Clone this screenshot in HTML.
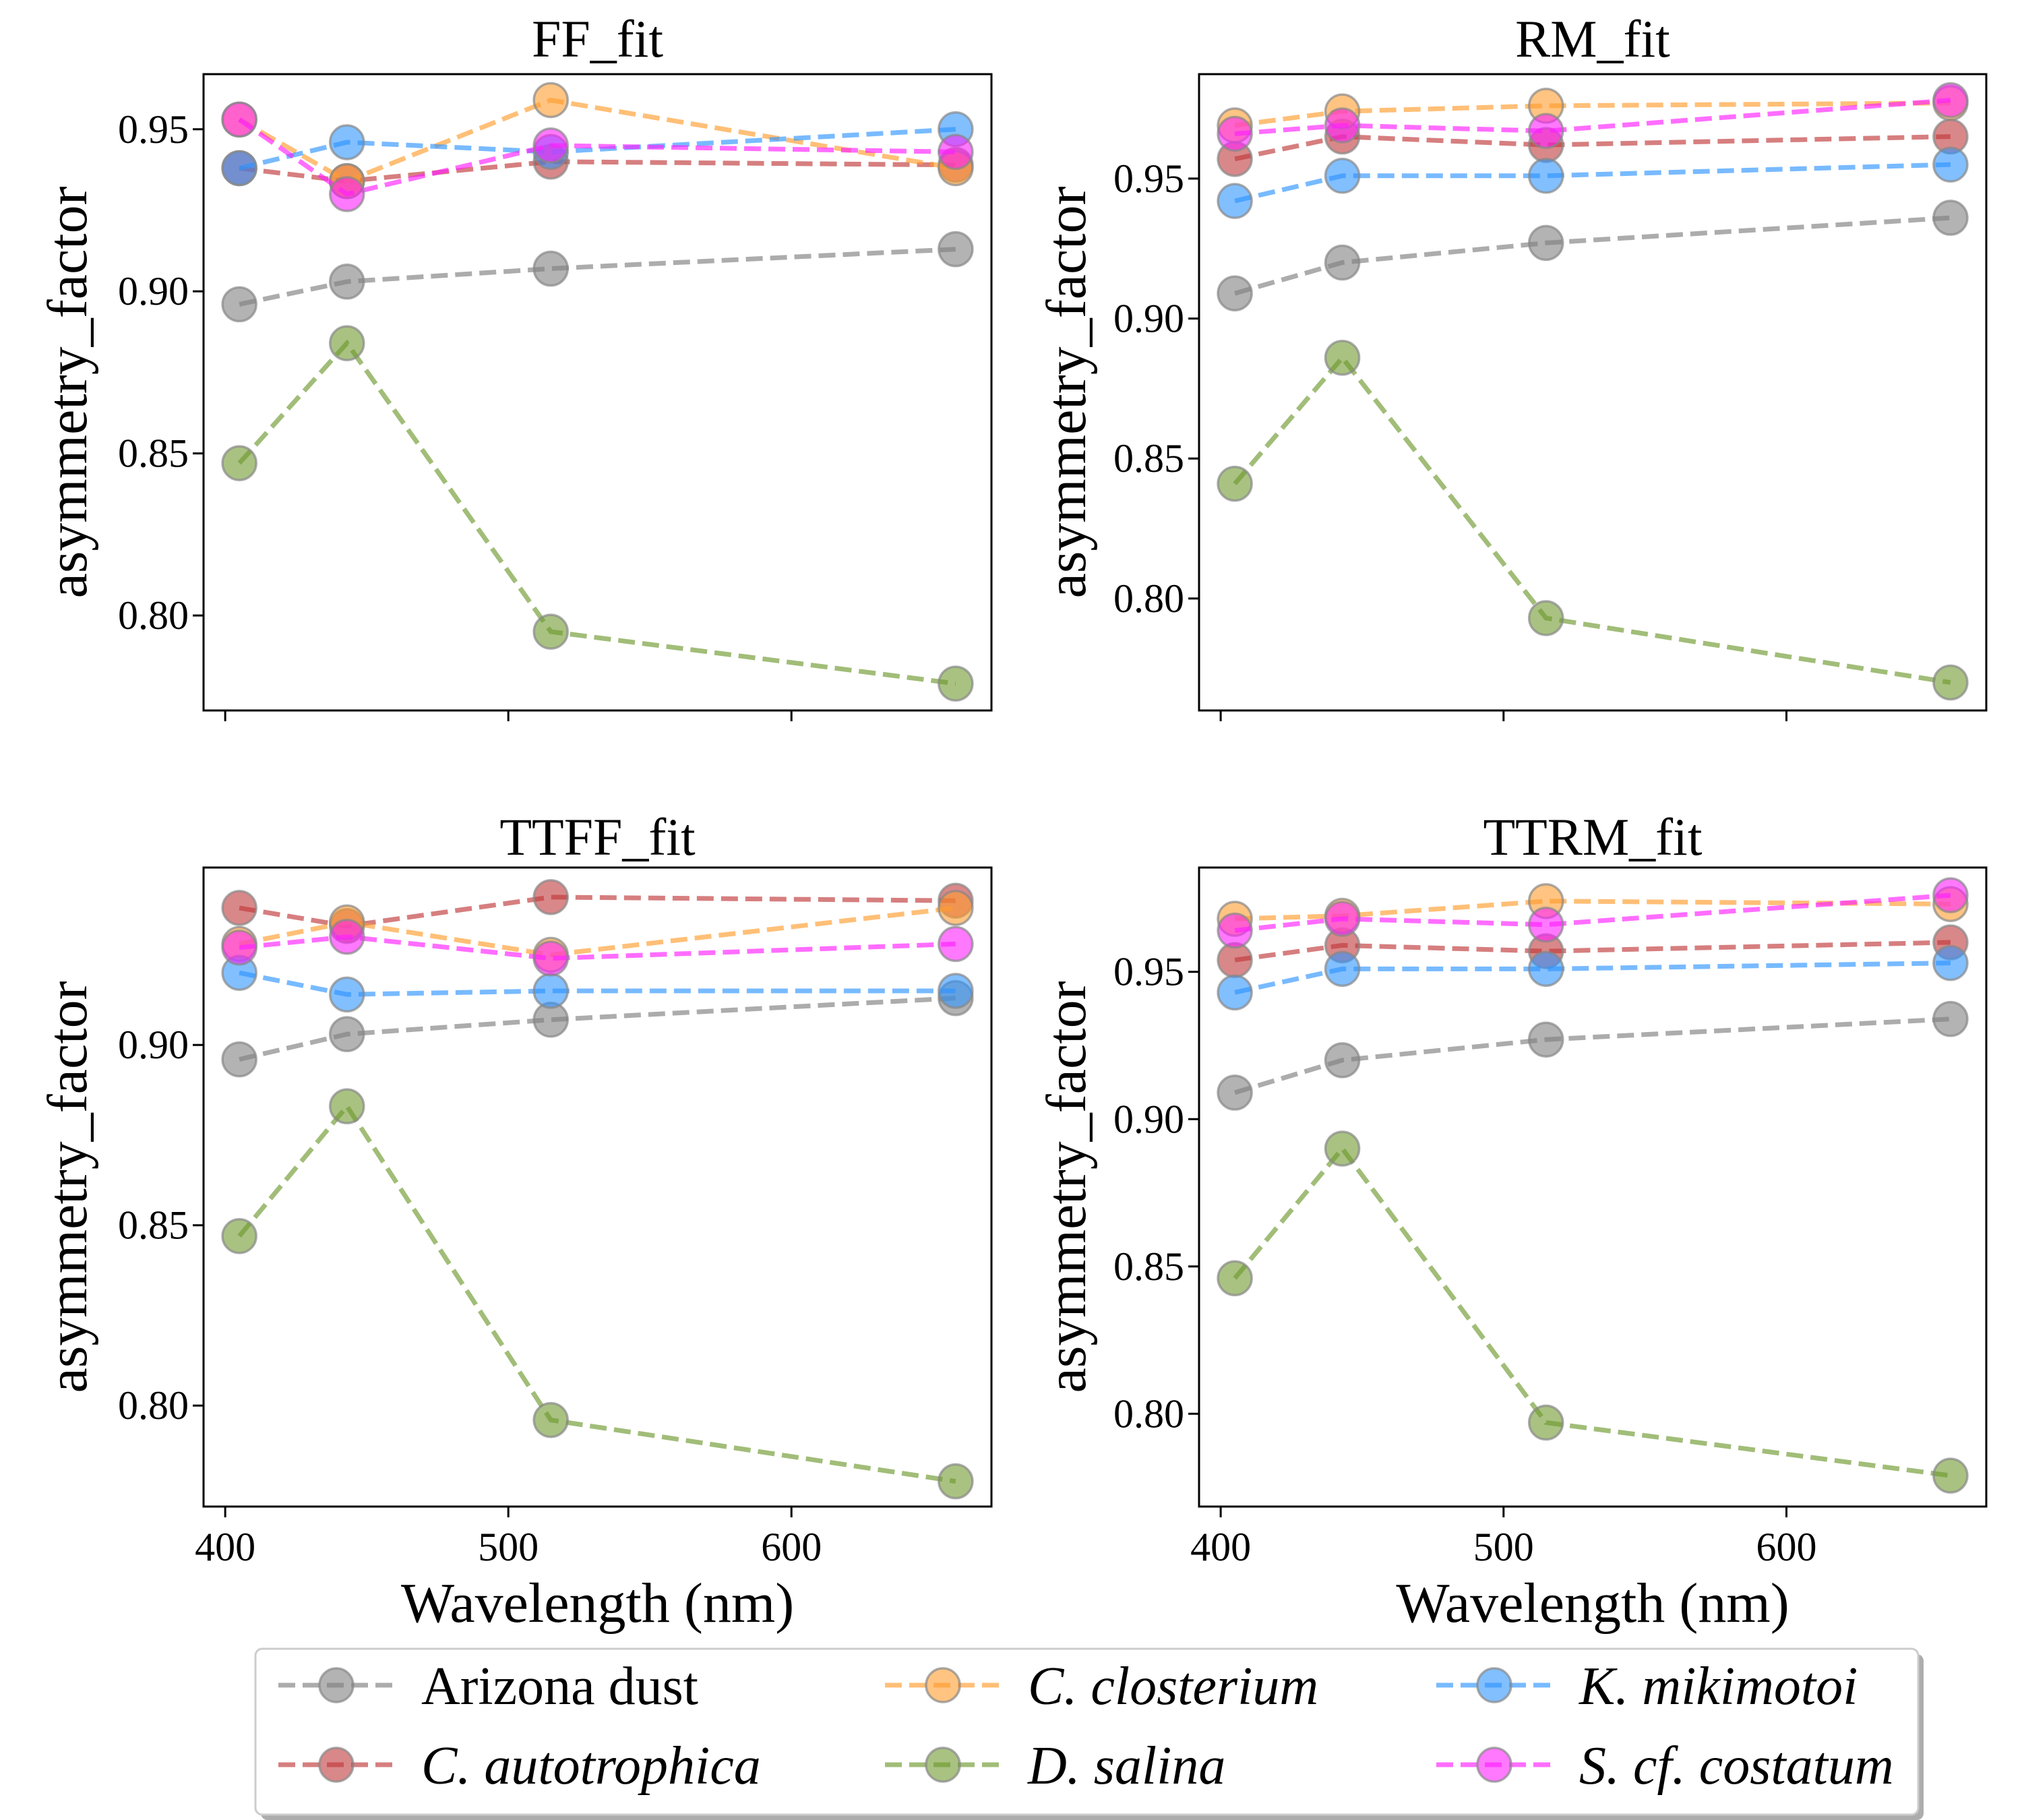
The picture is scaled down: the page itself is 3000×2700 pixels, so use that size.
<!DOCTYPE html>
<html><head><meta charset="utf-8"><style>
html,body{margin:0;padding:0;background:#fff;}
svg{display:block;font-family:"Liberation Serif",serif;}
</style></head><body>
<svg id="fig" width="3000" height="2700" viewBox="0 0 3000 2700" xmlns="http://www.w3.org/2000/svg"></svg>
<script>
const wavelengths = [405, 443, 515, 658];
const seriesNames = ["Arizona dust","C. autotrophica","C. closterium","D. salina","K. mikimotoi","S. cf. costatum"];
const seriesColors = ["#808080","#c0393b","#ff9d2e","#6f9a2f","#2f95ff","#ff1fff"];
const panelTitles = ["FF_fit","RM_fit","TTFF_fit","TTRM_fit"];
const ffArizona=[0.896,0.903,0.907,0.913], ffAuto=[0.938,0.934,0.940,0.939], ffClost=[0.953,0.934,0.959,0.938], ffSalina=[0.847,0.884,0.795,0.779], ffMiki=[0.938,0.946,0.943,0.950], ffCost=[0.953,0.930,0.945,0.943];
const rmArizona=[0.909,0.920,0.927,0.936], rmAuto=[0.957,0.965,0.962,0.965], rmClost=[0.969,0.974,0.976,0.977], rmSalina=[0.841,0.886,0.793,0.770], rmMiki=[0.942,0.951,0.951,0.955], rmCost=[0.966,0.969,0.967,0.978];
const ttffArizona=[0.896,0.903,0.907,0.913], ttffAuto=[0.938,0.933,0.941,0.940], ttffClost=[0.928,0.934,0.925,0.938], ttffSalina=[0.847,0.883,0.796,0.779], ttffMiki=[0.920,0.914,0.915,0.915], ttffCost=[0.927,0.930,0.924,0.928];
const ttrmArizona=[0.909,0.920,0.927,0.934], ttrmAuto=[0.954,0.959,0.957,0.960], ttrmClost=[0.968,0.969,0.974,0.973], ttrmSalina=[0.846,0.890,0.797,0.779], ttrmMiki=[0.943,0.951,0.951,0.953], ttrmCost=[0.964,0.968,0.966,0.976];
const panelData = [
 [ffArizona,ffAuto,ffClost,ffSalina,ffMiki,ffCost],
 [rmArizona,rmAuto,rmClost,rmSalina,rmMiki,rmCost],
 [ttffArizona,ttffAuto,ttffClost,ttffSalina,ttffMiki,ttffCost],
 [ttrmArizona,ttrmAuto,ttrmClost,ttrmSalina,ttrmMiki,ttrmCost]];
const yTicks = [0.80,0.85,0.90,0.95];
const yTickLabels = ["0.80","0.85","0.90","0.95"];
const xTicks = [400,500,600];
const xTickLabels = ["400","500","600"];

const NS="http://www.w3.org/2000/svg";
const svg=document.getElementById('fig');
function mk(tag,attrs,parent){const e=document.createElementNS(NS,tag);for(const k in attrs)e.setAttribute(k,attrs[k]);(parent||svg).appendChild(e);return e;}
const panels=[
 {x0:302,x1:1471,y0:110,y1:1054,ymin:0.7707,ymax:0.967,lx:106,xl:false,ty:84},
 {x0:1779,x1:2947,y0:110,y1:1054,ymin:0.760,ymax:0.9873,lx:1588,xl:false,ty:84},
 {x0:302,x1:1471,y0:1287,y1:2235,ymin:0.772,ymax:0.9492,lx:106,xl:true,ty:1268},
 {x0:1779,x1:2947,y0:1287,y1:2235,ymin:0.7685,ymax:0.9854,lx:1588,xl:true,ty:1268}];
const xmin=392.35,xmax=670.65;
panels.forEach((p,pi)=>{
 const g=mk('g',{});
 
 
 const X=v=>p.x0+(v-xmin)/(xmax-xmin)*(p.x1-p.x0);
 const Y=v=>p.y1-(v-p.ymin)/(p.ymax-p.ymin)*(p.y1-p.y0);
 panelData[pi].forEach((vals,si)=>{
  const pts=vals.map((v,i)=>X(wavelengths[i]).toFixed(1)+','+Y(v).toFixed(1)).join(' ');
  const l=mk('polyline',{points:pts,fill:'none',stroke:seriesColors[si],'stroke-width':7,'stroke-dasharray':'25 11','stroke-opacity':0.65},g);
  
  
  vals.forEach((v,i)=>{
   const c=mk('circle',{cx:X(wavelengths[i]),cy:Y(v),r:25,fill:seriesColors[si],'fill-opacity':0.6,stroke:'#888','stroke-opacity':0.7,'stroke-width':3.5},g);
   
   
  });
 });
 const fr=mk('rect',{x:p.x0,y:p.y0,width:p.x1-p.x0,height:p.y1-p.y0,fill:'none',stroke:'#000','stroke-width':3},g);
 
 
 yTicks.forEach((t,i)=>{
  const y=Y(t);
  if(y<p.y0||y>p.y1)return;
  mk('line',{x1:p.x0-16,x2:p.x0,y1:y,y2:y,stroke:'#000','stroke-width':3},g);
  const tx=mk('text',{x:p.x0-22,y:y+20,'font-size':60,'text-anchor':'end'},g);
  tx.textContent=yTickLabels[i];
  
  
 });
 xTicks.forEach((t,i)=>{
  const x=X(t);
  mk('line',{x1:x,x2:x,y1:p.y1,y2:p.y1+16,stroke:'#000','stroke-width':3},g);
  if(p.xl){const tx=mk('text',{x:x,y:p.y1+80,'font-size':60,'text-anchor':'middle'},g);
   tx.textContent=xTickLabels[i];
   
   }
 });
 const tt=mk('text',{x:(p.x0+p.x1)/2,y:p.ty,'font-size':78,'text-anchor':'middle'},g);
 tt.textContent=panelTitles[pi];
 
 
 const yl=mk('text',{x:0,y:0,'font-size':84,'text-anchor':'middle',transform:`translate(${p.lx+22},${(p.y0+p.y1)/2}) rotate(-90)`},g);
 yl.textContent='asymmetry_factor';
 
 
 if(p.xl){const xl=mk('text',{x:(p.x0+p.x1)/2,y:2406,'font-size':84,'text-anchor':'middle'},g);
  xl.textContent='Wavelength (nm)';
  
  }
});
const lg=mk('g',{});


mk('rect',{x:387,y:2454,width:2467,height:246,rx:10,fill:'#999',opacity:0.8},lg);
mk('rect',{x:379,y:2446,width:2467,height:246,rx:10,fill:'#fff',stroke:'#ccc','stroke-width':3},lg);
const colX=[413,1313,2131], rowY=[2500,2618];
seriesNames.forEach((n,i)=>{
 const col=Math.floor(i/2), row=i%2;
 const x=colX[col], y=rowY[row];
 const e=mk('g',{},lg);
 
 
 mk('line',{x1:x,x2:x+172,y1:y,y2:y,stroke:seriesColors[i],'stroke-width':7,'stroke-dasharray':'25 11','stroke-opacity':0.65},e);
 mk('circle',{cx:x+86,cy:y,r:25,fill:seriesColors[i],'fill-opacity':0.6,stroke:'#888','stroke-opacity':0.7,'stroke-width':3.5},e);
 const t=mk('text',{x:x+212,y:y+28,'font-size':80},e);
 if(i>0)t.setAttribute('font-style','italic');
 t.textContent=n;
});
</script>
</body></html>
